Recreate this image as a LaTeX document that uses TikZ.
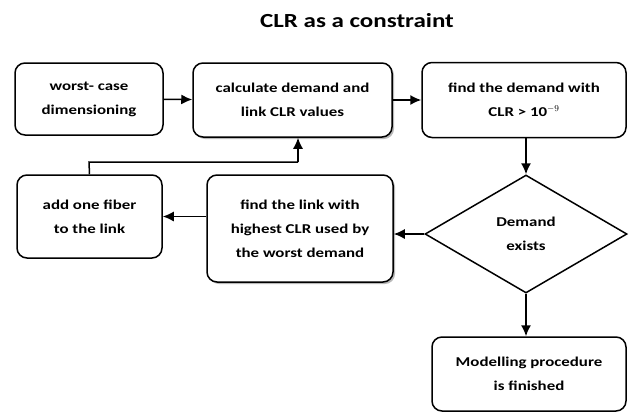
\documentclass[tikz,border=0pt]{standalone}
\usepackage{fontspec}
\setmainfont{Carlito}[FakeStretch=1.25]
\usetikzlibrary{arrows.meta,shapes.geometric,shadows}
\begin{document}
\begin{tikzpicture}[x=1pt,y=-1pt,
  box/.style={draw, line width=1.5pt, rounded corners=10pt, fill=white, align=center, font=\bfseries\fontsize{13.5}{24}\selectfont, inner sep=0pt},
  shbox/.style={box, drop shadow={shadow xshift=2pt, shadow yshift=-2pt, fill=gray!55, opacity=1}},
  arr/.style={line width=1.5pt, -{Latex[length=11pt,width=10pt]}},
  ln/.style={line width=1.5pt}]
\useasboundingbox (0,0) rectangle (629,413);
\node[font=\bfseries\fontsize{20}{24}\selectfont] (title) at (357,21) {CLR as a constraint};
\node[box, minimum width=148pt, minimum height=72pt] (b1) at (89,99) {worst- case\\dimensioning};
\node[shbox, minimum width=199pt, minimum height=74pt] (b2) at (292.5,100) {calculate demand and\\link CLR values};
\node[box, minimum width=204pt, minimum height=75pt] (b3) at (524,100) {find the demand with\\CLR > 10$^{-9}$};
\node[box, minimum width=145pt, minimum height=83pt] (b4) at (89.5,216.5) {add one fiber\\to the link};
\node[shbox, minimum width=186pt, minimum height=107pt] (b5) at (300,228.5) {find the link with\\highest CLR used by\\the worst demand};
\node[draw, line width=1.5pt, diamond, aspect=1.7, minimum width=202pt, minimum height=118pt, inner sep=0pt, align=center, font=\bfseries\fontsize{13.5}{24}\selectfont] (d) at (526,234) {Demand\\exists};
\node[box, minimum width=194pt, minimum height=74pt] (b6) at (529,374) {Modelling procedure\\is finished};
\coordinate (c1) at (89,162);
\coordinate (c2) at (298,162);
\draw[arr] (b1) -- (b2);
\draw[arr] (b2) -- (b3);
\draw[arr] (b3.south -| d.north) -- (d.north);
\draw[arr] (d.west) -- (b5.east |- d.west);
\draw[arr] (b5.west |- b4.east) -- (b4.east);
\draw[ln] (b4.north) -- (c1) -- (c2);
\draw[arr] (c2) -- (c2 |- b2.south);
\draw[arr] (d.south) -- (d.south |- b6.north);
\end{tikzpicture}
\end{document}
